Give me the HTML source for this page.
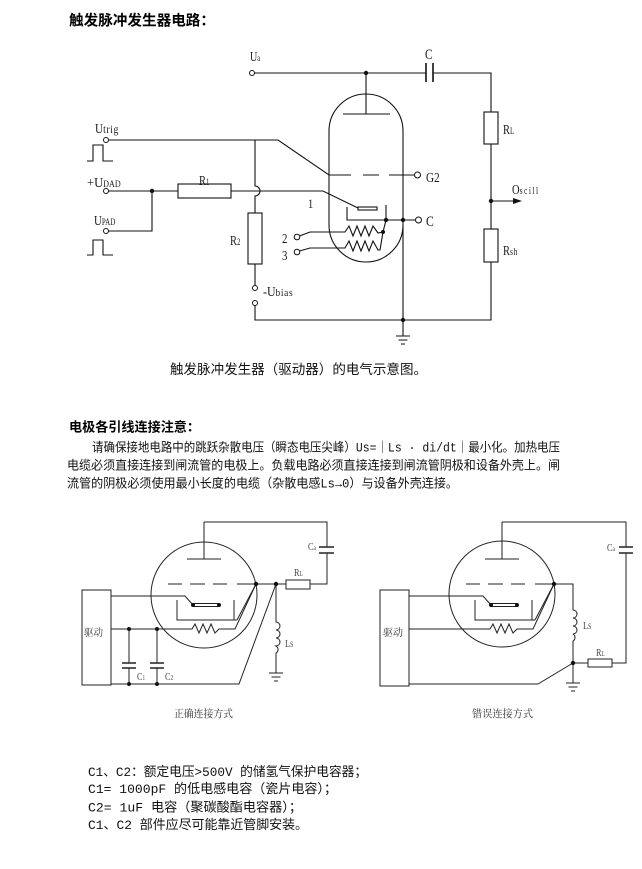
<!DOCTYPE html>
<html><head><meta charset="utf-8">
<style>
html,body{margin:0;padding:0;background:#fff;}
svg{display:block;}
.lb{font-family:"Liberation Serif",serif;fill:#1a1a1a;}
.lg{font-family:"Liberation Serif",serif;fill:#444;}
.cj{font-family:"Liberation Mono","Noto Sans CJK SC",sans-serif;fill:#111;}
.cjb{font-family:"Liberation Sans","Noto Sans CJK SC",sans-serif;font-weight:bold;fill:#000;}
.cs{font-family:"Liberation Serif","Noto Serif CJK SC",serif;fill:#333;}
</style></head>
<body>
<svg width="642" height="869" viewBox="0 0 642 869" xmlns="http://www.w3.org/2000/svg">
<rect width="642" height="869" fill="#fff"/>

<!-- Title -->
<text class="cjb" x="69" y="25.5" font-size="14.5" textLength="146" lengthAdjust="spacingAndGlyphs">触发脉冲发生器电路：</text>

<!-- ===== Top circuit ===== -->
<g stroke="#111" stroke-width="1.1" fill="none">
  <path d="M254.5,73 H426 M433,73 H491 V112 M491,144 V229 M491,262 V320 H255 V305.5 M255,290.5 V264 M255,213 V196 A5,5 0 0 0 255,186 V140"/>
  <path d="M108.5,140 H278 L329,175 H351 M363,175 H379 M389,175 H414.5"/>
  <path d="M108.5,191 H178 M231,191 H323 L358,208"/>
  <path d="M108.5,231 H152 V191"/>
  <path d="M366,73 V114 M343,114 H390"/>
  <path d="M347,207 V220 H386 M386,205 V220 H415.5"/>
  <path d="M329,225 V131 A37,37 0 0 1 403,131 V320 M329,225 A37,37 0 0 0 403,225"/>
  <path d="M403,320 V336 M396,336 H410 M398.5,340 H407.5 M401,344 H405"/>
  <path d="M491,201 H514"/>
  <path d="M299.5,236 L310,232 H345 L349,226 L353,236 L357,226 L361,236 L365,226 L369,236 L373,226 L378,233 L383,232"/>
  <path d="M299.5,251 L310,248 H345 L349,241 L353,251 L357,241 L361,251 L365,241 L369,251 L373,241 L378,250 L380,250 L383,232 L386,220"/>
  <path d="M87,161 H93 V145 H103 V161 H113"/>
  <path d="M87,255 H93 V240 H103 V255 H113"/>
  <path d="M426,63 V82 M433,63 V82" stroke-width="1.6"/>
  <rect x="484" y="112" width="14" height="32" fill="#fff"/>
  <rect x="484" y="229" width="14" height="33" fill="#fff"/>
  <rect x="178" y="184" width="53" height="14" fill="#fff"/>
  <rect x="248" y="213" width="14" height="51" fill="#fff"/>
  <rect x="358" y="207" width="19" height="3" fill="#fff"/>
  <g fill="#fff" stroke-width="1">
    <circle cx="252" cy="73" r="2.5"/>
    <circle cx="106" cy="140" r="2.5"/>
    <circle cx="106" cy="191" r="2.5"/>
    <circle cx="106" cy="231" r="2.5"/>
    <circle cx="255" cy="288" r="2.5"/>
    <circle cx="255" cy="303" r="2.5"/>
    <circle cx="417.5" cy="175" r="3"/>
    <circle cx="418.5" cy="220" r="3"/>
    <circle cx="297" cy="237" r="2.8"/>
    <circle cx="297" cy="252" r="2.8"/>
  </g>
</g>
<g fill="#111">
  <circle cx="366" cy="73" r="2.2"/>
  <circle cx="152" cy="191" r="2.2"/>
  <circle cx="491" cy="201" r="2.2"/>
  <circle cx="386" cy="220" r="2.2"/>
  <circle cx="403" cy="220" r="2.2"/>
  <circle cx="403" cy="320" r="2.2"/>
  <circle cx="383" cy="232" r="2"/>
  <polygon points="522,201 513,198 513,204"/>
</g>

<!-- Top labels -->
<g class="lb">
  <g transform="translate(250,61) scale(0.72,1)"><text font-size="14">U<tspan font-size="9">a</tspan></text></g>
  <g transform="translate(425,59) scale(0.75,1)"><text font-size="15">C</text></g>
  <g transform="translate(95,133) scale(0.8,1)"><text font-size="14">U<tspan font-size="12" letter-spacing="0.8">trig</tspan></text></g>
  <g transform="translate(87,187) scale(0.9,1)"><text font-size="14">+U<tspan font-size="9">DAD</tspan></text></g>
  <g transform="translate(94,225) scale(0.78,1)"><text font-size="14">U<tspan font-size="9">PAD</tspan></text></g>
  <g transform="translate(199,185) scale(0.75,1)"><text font-size="14">R<tspan font-size="9">1</tspan></text></g>
  <g transform="translate(230,245) scale(0.75,1)"><text font-size="14">R<tspan font-size="9">2</tspan></text></g>
  <g transform="translate(263,296) scale(0.85,1)"><text font-size="14">-U<tspan font-size="11" letter-spacing="0.8">bias</tspan></text></g>
  <g transform="translate(426,182) scale(0.8,1)"><text font-size="14">G2</text></g>
  <g transform="translate(426,226) scale(0.78,1)"><text font-size="15">C</text></g>
  <g transform="translate(503,134) scale(0.75,1)"><text font-size="14">R<tspan font-size="9">L</tspan></text></g>
  <g transform="translate(512,194) scale(0.75,1)"><text font-size="14">O<tspan font-size="10" letter-spacing="2">scill</tspan></text></g>
  <g transform="translate(503,255) scale(0.75,1)"><text font-size="14">R<tspan font-size="10" letter-spacing="1">sh</tspan></text></g>
  <g transform="translate(308,208) scale(0.8,1)"><text font-size="13">1</text></g>
  <g transform="translate(282,243) scale(0.78,1)"><text font-size="14">2</text></g>
  <g transform="translate(282,260) scale(0.78,1)"><text font-size="14">3</text></g>
</g>

<!-- Caption -->
<text class="cj" x="170" y="374" font-size="13.5" textLength="257" lengthAdjust="spacingAndGlyphs">触发脉冲发生器（驱动器）的电气示意图。</text>

<!-- Section heading & paragraph -->
<text class="cjb" x="69" y="431.5" font-size="13" textLength="131" lengthAdjust="spacingAndGlyphs">电极各引线连接注意：</text>
<text class="cj" x="92" y="451.5" font-size="12.6" textLength="468" lengthAdjust="spacingAndGlyphs">请确保接地电路中的跳跃杂散电压（瞬态电压尖峰）Us=｜Ls · di/dt｜最小化。加热电压</text>
<text class="cj" x="67" y="469.5" font-size="12.6" textLength="493" lengthAdjust="spacingAndGlyphs">电缆必须直接连接到闸流管的电极上。负载电路必须直接连接到闸流管阴极和设备外壳上。闸</text>
<text class="cj" x="67" y="487.5" font-size="12.6" textLength="391" lengthAdjust="spacingAndGlyphs">流管的阴极必须使用最小长度的电缆（杂散电感Ls→0）与设备外壳连接。</text>

<!-- ===== Bottom-left circuit ===== -->
<g stroke="#222" stroke-width="1" fill="none">
  <circle cx="204" cy="595" r="53"/>
  <rect x="82" y="590" width="29" height="95"/>
  <path d="M204,522 V559 M187,559 H221"/>
  <path d="M204,522 H327 V547 M327,553 V584 H310"/>
  <path d="M319,547 H334 M319,553 H334" stroke-width="1.5"/>
  <path d="M286,584 H237 M168,584 H182 M190,584 H205 M213,584 H227"/>
  <path d="M111,596 H185 L193,605"/>
  <path d="M177,600 V620 H237 M234,600 V620 M237,620 L256,584"/>
  <path d="M111,629 H192 L195,624 L199,633 L203,624 L207,633 L211,624 L215,633 L219,629 H235 L256,584"/>
  <path d="M129,629 V663 M129,668 V684 M157,629 V663 M157,668 V684"/>
  <path d="M122,663 H136 M122,668 H136 M150,663 H164 M150,668 H164" stroke-width="1.5"/>
  <path d="M111,684 H239 L276,584"/>
  <path d="M276,584 V622 a4,4 0 0 1 0,8 a4,4 0 0 1 0,8 a4,4 0 0 1 0,8 a4,4 0 0 1 0,7 V673"/>
  <path d="M269,673 H283 M271.5,677 H280.5 M274,681 H278"/>
  <rect x="286" y="580" width="24" height="9" fill="#fff"/>
  <rect x="193" y="603.5" width="26" height="3" fill="#fff"/>
</g>
<g fill="#111">
  <circle cx="193" cy="605" r="2"/>
  <circle cx="219" cy="605" r="2"/>
  <circle cx="256" cy="584" r="2.2"/>
  <circle cx="276" cy="584" r="2.2"/>
  <circle cx="129" cy="629" r="2"/>
  <circle cx="157" cy="629" r="2"/>
  <circle cx="129" cy="684" r="2"/>
  <circle cx="157" cy="684" r="2"/>
</g>
<g class="lg">
  <g transform="translate(308,550) scale(0.75,1)"><text font-size="11">C<tspan font-size="7">a</tspan></text></g>
  <g transform="translate(294,576) scale(0.75,1)"><text font-size="11">R<tspan font-size="7">L</tspan></text></g>
  <g transform="translate(285,647) scale(0.75,1)"><text font-size="11">L<tspan font-size="8">S</tspan></text></g>
  <g transform="translate(137,680) scale(0.75,1)"><text font-size="11">C<tspan font-size="7">1</tspan></text></g>
  <g transform="translate(165,680) scale(0.75,1)"><text font-size="11">C<tspan font-size="7">2</tspan></text></g>
</g>
<text class="cs" x="84" y="636" font-size="10" textLength="19" lengthAdjust="spacingAndGlyphs">驱动</text>
<text class="cs" x="174" y="717" font-size="10.5" textLength="59" lengthAdjust="spacingAndGlyphs">正确连接方式</text>

<!-- ===== Bottom-right circuit ===== -->
<g stroke="#222" stroke-width="1" fill="none">
  <circle cx="502" cy="594" r="53"/>
  <rect x="380" y="590" width="29" height="96"/>
  <path d="M502,522 V559 M485,559 H519"/>
  <path d="M502,522 H626 V547 M626,553 V663 H612"/>
  <path d="M619,547 H633 M619,553 H633" stroke-width="1.5"/>
  <path d="M588,663 H573"/>
  <path d="M466,584 H480 M488,584 H503 M511,584 H525 M535,584 H573 V610 a4,4 0 0 1 0,8 a4,4 0 0 1 0,8 a4,4 0 0 1 0,8 a4,4 0 0 1 0,7 V683"/>
  <path d="M566,683 H580 M568.5,687 H577.5 M571,691 H575"/>
  <path d="M409,596 H483 L491,605"/>
  <path d="M475,600 V620 H535 M532,600 V620 M535,620 L554,584"/>
  <path d="M409,629 H490 L493,624 L497,633 L501,624 L505,633 L509,624 L513,633 L517,629 H533 L554,584"/>
  <path d="M409,684 H538 L573,663"/>
  <rect x="588" y="659" width="24" height="8" fill="#fff"/>
  <rect x="491" y="603.5" width="26" height="3" fill="#fff"/>
</g>
<g fill="#111">
  <circle cx="491" cy="605" r="2"/>
  <circle cx="517" cy="605" r="2"/>
  <circle cx="554" cy="584" r="2.2"/>
  <circle cx="573" cy="663" r="2.2"/>
</g>
<g class="lg">
  <g transform="translate(607,551) scale(0.75,1)"><text font-size="11">C<tspan font-size="7">a</tspan></text></g>
  <g transform="translate(583,629) scale(0.75,1)"><text font-size="11">L<tspan font-size="8">S</tspan></text></g>
  <g transform="translate(596,656) scale(0.75,1)"><text font-size="11">R<tspan font-size="7">L</tspan></text></g>
</g>
<text class="cs" x="383" y="636" font-size="10" textLength="20" lengthAdjust="spacingAndGlyphs">驱动</text>
<text class="cs" x="472" y="717" font-size="10.5" textLength="61" lengthAdjust="spacingAndGlyphs">错误连接方式</text>

<!-- Bottom notes -->
<text class="cj" x="88" y="776" font-size="13" textLength="279" lengthAdjust="spacingAndGlyphs">C1、C2：额定电压&gt;500V 的储氢气保护电容器；</text>
<text class="cj" x="88" y="793" font-size="13" textLength="249" lengthAdjust="spacingAndGlyphs">C1= 1000pF 的低电感电容（瓷片电容）；</text>
<text class="cj" x="88" y="811.5" font-size="13" textLength="214" lengthAdjust="spacingAndGlyphs">C2= 1uF 电容（聚碳酸酯电容器）；</text>
<text class="cj" x="88" y="829" font-size="13" textLength="220" lengthAdjust="spacingAndGlyphs">C1、C2 部件应尽可能靠近管脚安装。</text>
</svg>
</body></html>
